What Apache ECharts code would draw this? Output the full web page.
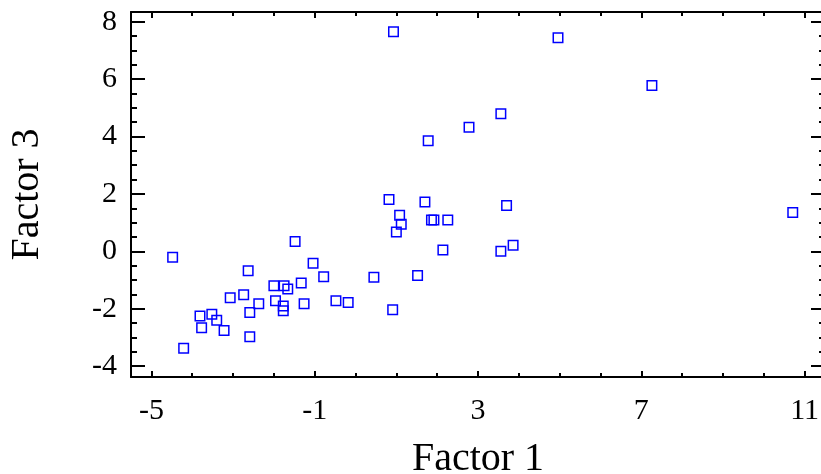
<!DOCTYPE html>
<html>
<head>
<meta charset="utf-8">
<script src="https://cdn.jsdelivr.net/npm/echarts@6/dist/echarts.min.js"></script>
<style>
html,body{margin:0;padding:0;background:#fff;}
#chart{width:821px;height:474px;}
</style>
</head>
<body>
<div id="chart"></div>
<script>
// Data (Factor 1, Factor 3)
const factor1 = [-4.48, -1.48, -2.63, -1.04, -0.78, -2.00, -1.75, -1.66, -1.33, -2.74,
  -3.07, -2.37, -1.96, -1.77, -1.77, -1.26, -0.48, -0.18, -2.59, -3.81,
  -3.52, -3.40, -3.77, -3.22, -2.59, -4.21,
  0.82, 1.70, 3.70, 1.08, 1.12, 1.00, 1.86, 1.92, 2.26, 2.14,
  3.56, 3.86, 1.52, 0.45, 0.91,
  0.93, 4.96, 3.56, 2.78, 1.78, 7.26, 10.71];
const factor3 = [-0.21, 0.34, -0.68, -0.42, -0.89, -1.20, -1.20, -1.31, -1.10, -1.51,
  -1.62, -1.83, -1.72, -1.91, -2.07, -1.83, -1.72, -1.78, -2.13, -2.25,
  -2.19, -2.40, -2.66, -2.76, -2.98, -3.38,
  1.81, 1.72, 1.60, 1.26, 0.94, 0.67, 1.09, 1.09, 1.09, 0.05,
  0.00, 0.21, -0.84, -0.90, -2.04,
  7.65, 7.44, 4.79, 4.32, 3.85, 5.78, 1.35];

const xMajorTicks = [-5, -1, 3, 7, 11];
const xMinorTicks = [-5, -4, -3, -2, -1, 0, 1, 2, 3, 4, 5, 6, 7, 8, 9, 10, 11];
const yMajorTicks = [-4, -2, 0, 2, 4, 6, 8];
const yMinorTicks = [-4, -3.5, -3, -2.5, -2, -1.5, -1, -0.5, 0, 0.5, 1, 1.5, 2, 2.5, 3, 3.5, 4, 4.5, 5, 5.5, 6, 6.5, 7, 7.5, 8];

const xTitle = 'Factor 1';
const yTitle = 'Factor 3';

const X_MIN = -5.5, X_MAX = 11.5, Y_MIN = -4.38, Y_MAX = 8.34;
const FONT = '"Liberation Serif", "Times New Roman", serif';
const lineStyle = {color: '#000', width: 2};

function xAx(pos, ticks, len, withLine, withLabel, name) {
  return {
    type: 'value', position: pos, min: X_MIN, max: X_MAX,
    splitLine: {show: false},
    axisLine: {show: withLine, onZero: false, lineStyle: lineStyle},
    axisTick: {show: true, inside: true, length: len, customValues: ticks, lineStyle: {color: '#000', width: 2}},
    axisLabel: withLabel ? {show: true, customValues: xMajorTicks, margin: 19, color: '#000', fontFamily: FONT, fontSize: 30} : {show: false},
    name: name || '', nameLocation: 'middle', nameGap: 62,
    nameTextStyle: {color: '#000', fontFamily: FONT, fontSize: 40}
  };
}
function yAx(pos, ticks, len, withLine, withLabel, name) {
  return {
    type: 'value', position: pos, min: Y_MIN, max: Y_MAX,
    splitLine: {show: false},
    axisLine: {show: withLine, onZero: false, lineStyle: lineStyle},
    axisTick: {show: true, inside: true, length: len, customValues: ticks, lineStyle: {color: '#000', width: 2}},
    axisLabel: withLabel ? {show: true, customValues: yMajorTicks, margin: 14, color: '#000', fontFamily: FONT, fontSize: 30} : {show: false},
    name: name || '', nameLocation: 'middle', nameGap: 84, nameRotate: 90,
    nameTextStyle: {color: '#000', fontFamily: FONT, fontSize: 40}
  };
}

const points = factor1.map((v, i) => [v, factor3[i]]);

const chart = echarts.init(document.getElementById('chart'), null, {renderer: 'canvas'});
chart.setOption({
  animation: false,
  backgroundColor: '#fff',
  grid: {left: 131, top: 12, right: -4, bottom: 97, containLabel: false, outerBoundsMode: 'none'},
  xAxis: [
    xAx('bottom', xMajorTicks, 6, true, true, xTitle),
    xAx('bottom', xMinorTicks, 4, false, false),
    xAx('top', xMajorTicks, 6, true, false),
    xAx('top', xMinorTicks, 4, false, false)
  ],
  yAxis: [
    yAx('left', yMajorTicks, 14, true, true, yTitle),
    yAx('left', yMinorTicks, 6, false, false),
    yAx('right', yMajorTicks, 14, true, false),
    yAx('right', yMinorTicks, 6, false, false)
  ],
  series: [{
    type: 'scatter',
    xAxisIndex: 0, yAxisIndex: 0,
    symbol: 'rect', symbolSize: 9.5,
    itemStyle: {color: 'rgba(255,255,255,0)', borderColor: '#0000ff', borderWidth: 1.5, opacity: 1},
    data: points
  }]
});
</script>
</body>
</html>
